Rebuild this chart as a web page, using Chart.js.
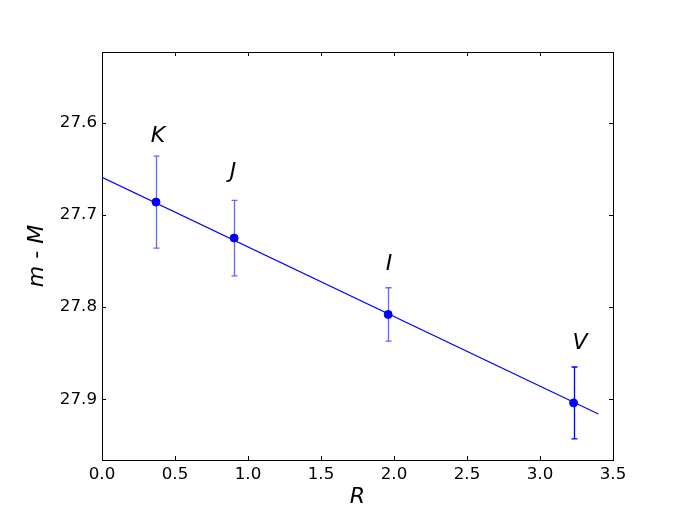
<!DOCTYPE html>
<html>
<head>
<meta charset="utf-8">
<script src="https://cdn.jsdelivr.net/npm/chart.js@4"></script>
<style>
  html, body { margin: 0; padding: 0; background: #fff; }
  #wrap { width: 681px; height: 511px; }
</style>
</head>
<body>
<div id="wrap"><canvas id="chart"></canvas></div>
<script>
// ============================================
// Distance modulus vs R (band fit)
// ============================================

const bands = ['K', 'J', 'I', 'V'];
const rValues = [0.37, 0.905, 1.96, 3.23];
const modulus = [27.686, 27.725, 27.808, 27.904];
const modulusErr = [0.05, 0.041, 0.029, 0.039];
const labelX = [0.384, 0.897, 1.966, 3.274];
const labelY = [27.614, 27.654, 27.754, 27.839];

const fitX = [0.0, 3.4];
const fitY = [27.659, 27.916];

const xTicks = [0.0, 0.5, 1.0, 1.5, 2.0, 2.5, 3.0, 3.5];
const yTicks = [27.6, 27.7, 27.8, 27.9];

const FONT = 'DejaVu Sans';

// error bars, band labels, frame and inward ticks
const decorations = {
    id: 'decorations',
    afterDatasetsDraw(chart) {
        const ctx = chart.ctx;
        const xs = chart.scales.x, ys = chart.scales.y;
        ctx.save();
        ctx.lineWidth = 1.3;
        rValues.forEach((r, i) => {
            const px = Math.round(xs.getPixelForValue(r)) + 0.5;
            const top = ys.getPixelForValue(modulus[i] - modulusErr[i]);
            const bot = ys.getPixelForValue(modulus[i] + modulusErr[i]);
            ctx.strokeStyle = i === 3 ? '#0000ff' : 'rgba(0,0,255,0.6)';
            ctx.beginPath();
            ctx.moveTo(px, top); ctx.lineTo(px, bot);
            ctx.moveTo(px - 3, top); ctx.lineTo(px + 3, top);
            ctx.moveTo(px - 3, bot); ctx.lineTo(px + 3, bot);
            ctx.stroke();
        });

        ctx.fillStyle = '#000';
        ctx.font = 'italic 22px ' + FONT;
        ctx.textAlign = 'center';
        ctx.textBaseline = 'middle';
        bands.forEach((b, i) => {
            ctx.fillText(b, xs.getPixelForValue(labelX[i]), ys.getPixelForValue(labelY[i]));
        });

        const a = chart.chartArea;
        ctx.strokeStyle = '#000';
        ctx.lineWidth = 1;
        ctx.strokeRect(a.left + 0.5, a.top + 0.5, a.right - a.left, a.bottom - a.top);
        ctx.beginPath();
        xTicks.forEach(v => {
            const px = Math.round(xs.getPixelForValue(v)) + 0.5;
            ctx.moveTo(px, a.bottom); ctx.lineTo(px, a.bottom - 4);
            ctx.moveTo(px, a.top); ctx.lineTo(px, a.top + 4);
        });
        yTicks.forEach(v => {
            const py = Math.round(ys.getPixelForValue(v)) + 0.5;
            ctx.moveTo(a.left, py); ctx.lineTo(a.left + 4, py);
            ctx.moveTo(a.right, py); ctx.lineTo(a.right - 4, py);
        });
        ctx.stroke();
        ctx.restore();
    }
};

new Chart(document.getElementById('chart'), {
    type: 'scatter',
    data: {
        datasets: [
            {
                type: 'line',
                data: fitX.map((x, i) => ({ x: x, y: fitY[i] })),
                borderColor: '#0000ff',
                borderWidth: 1.2,
                pointRadius: 0,
                fill: false
            },
            {
                data: rValues.map((x, i) => ({ x: x, y: modulus[i] })),
                backgroundColor: '#0000ff',
                borderColor: '#0000ff',
                pointRadius: 4,
                pointHoverRadius: 4
            }
        ]
    },
    plugins: [decorations],
    options: {
        responsive: true,
        maintainAspectRatio: false,
        animation: false,
        layout: { padding: { left: 0, top: 52, right: 68, bottom: 0 } },
        plugins: { legend: { display: false }, tooltip: { enabled: false } },
        scales: {
            x: {
                type: 'linear',
                min: 0, max: 3.5,
                grid: { display: false, drawTicks: false },
                border: { display: false },
                afterBuildTicks: s => { s.ticks = xTicks.map(v => ({ value: v })); },
                afterFit: s => { s.height = 51; },
                ticks: {
                    color: '#000',
                    font: { family: FONT, size: 16.7 },
                    padding: 5,
                    maxRotation: 0,
                    autoSkip: false,
                    callback: v => Number(v).toFixed(1)
                },
                title: {
                    display: true,
                    text: 'R',
                    color: '#000',
                    font: { family: FONT, size: 22, style: 'italic' },
                    padding: { top: 0, bottom: 1 }
                }
            },
            y: {
                type: 'linear',
                reverse: true,
                min: 27.523, max: 27.966,
                grid: { display: false, drawTicks: false },
                border: { display: false },
                afterBuildTicks: s => { s.ticks = yTicks.map(v => ({ value: v })); },
                afterFit: s => { s.width = 102; },
                ticks: {
                    color: '#000',
                    font: { family: FONT, size: 16.7 },
                    padding: 5,
                    autoSkip: false,
                    callback: v => Number(v).toFixed(1)
                },
                title: {
                    display: true,
                    text: 'm - M',
                    color: '#000',
                    font: { family: FONT, size: 22, style: 'italic' },
                    padding: { top: 24, bottom: 0 }
                }
            }
        }
    }
});
</script>
</body>
</html>
